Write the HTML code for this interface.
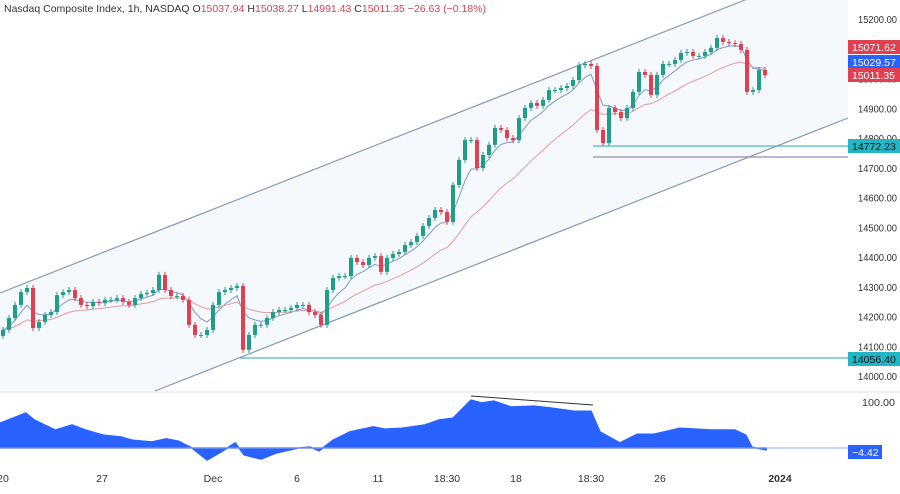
<!DOCTYPE html>
<html><head><meta charset="utf-8"><style>
body{margin:0;background:#fff;font-family:"Liberation Sans",sans-serif}
svg text{font-family:"Liberation Sans",sans-serif}
</style></head><body>
<svg id="c" width="900" height="489" xmlns="http://www.w3.org/2000/svg">
<rect width="900" height="489" fill="#fff"/>
<polygon points="0,293 745,0 848,0 848,118 155,391 0,391" fill="#f5f8fd"/>
<g id="grid"></g>
<line x1="0" y1="293" x2="745" y2="0" stroke="#8797b8" stroke-width="1.2"/>
<line x1="155" y1="391" x2="848" y2="118" stroke="#8797b8" stroke-width="1.2"/>
<line x1="593" y1="146" x2="848" y2="146" stroke="#4fb8c0" stroke-width="1.2"/>
<line x1="593" y1="157" x2="848" y2="157" stroke="#9a8aa6" stroke-width="1.2"/>
<line x1="240" y1="358" x2="848" y2="358" stroke="#4fb8c0" stroke-width="1.2"/>
<g id="ma"></g><g id="candles"></g>
<line x1="0" y1="392" x2="900" y2="392" stroke="#e0e3eb"/>
<g id="osc"></g>
<line x1="471" y1="396" x2="593" y2="405" stroke="#333" stroke-width="1"/>
<g id="axis"></g>
<text x="4" y="12" font-size="10.5" fill="#333">Nasdaq Composite Index, 1h, NASDAQ <tspan fill="#333">O</tspan><tspan fill="#d9434f">15037.94</tspan> <tspan fill="#333">H</tspan><tspan fill="#d9434f">15038.27</tspan> <tspan fill="#333">L</tspan><tspan fill="#d9434f">14991.43</tspan> <tspan fill="#333">C</tspan><tspan fill="#d9434f">15011.35 −26.63 (−0.18%)</tspan></text>
</svg>
<script>
const closes=[14155,14195,14239,14282,14296,14161,14182,14205,14215,14272,14282,14289,14262,14239,14235,14249,14245,14256,14256,14262,14249,14239,14262,14276,14279,14289,14340,14289,14269,14269,14256,14172,14138,14138,14155,14239,14282,14289,14296,14303,14088,14138,14172,14172,14195,14215,14222,14222,14229,14239,14239,14215,14205,14172,14289,14330,14336,14336,14397,14383,14373,14397,14403,14350,14397,14410,14417,14440,14450,14471,14504,14531,14558,14551,14518,14642,14726,14793,14793,14699,14743,14777,14834,14827,14800,14793,14867,14901,14918,14908,14928,14961,14961,14968,14975,14995,15045,15049,15042,14827,14783,14901,14887,14867,14901,14955,15022,15012,14945,15012,15049,15049,15062,15086,15089,15076,15076,15089,15103,15136,15123,15119,15116,15096,14955,14961,15029,15011];
const priceTicks=[15200,15100,15000,14900,14800,14700,14600,14500,14400,14300,14200,14100,14000];
const oscBar=[-0.5,3.8,5.2,8.7,11.5,13.8,16.7,19.7,21.5,24.8,27.2,29.2,31.5,34,36.3,38.7,40.2,43,45.5,49.2,51.2,52.7,55,57.8,61.7,63.7,66.5,70.3,72.7,75,78,79.8,81.8,84.7,88.5,91.3,95.2,98,99.5,102.8,105.7,108.5,112.8,118.2,122,123.8,124.8,127.2];
const oscVal=[54,76,61,39,50,39,28,24,17,13,20,15,0,-26,-9,11,-15,-24,-11,0,2,-6,17,35,46,41,43,50,61,65,104,98,102,89,91,87,80,80,35,11,30,30,43,39,39,28,2,-4];
const xLabels=["20","27","Dec","6","11","18:30","18","18:30","26","2024"];
const xLabelBars=[0,16.5,35,49,62.5,74,85.5,98,109.5,129.5];
const NS="http://www.w3.org/2000/svg";
const X=i=>3+6*i, Y=p=>19+(15200-p)*0.2975, OY=v=>448-v*0.46;
function mk(t,a,parent){const e=document.createElementNS(NS,t);for(const k in a)e.setAttribute(k,a[k]);parent.appendChild(e);return e;}
const grid=document.getElementById('grid'),axis=document.getElementById('axis');
priceTicks.forEach(p=>{
 const t=mk('text',{x:858,y:Y(p)+4,'font-size':'10',fill:'#333',textLength:'39',lengthAdjust:'spacingAndGlyphs'},axis);t.textContent=p.toFixed(2);
 
 
});
const ot=mk('text',{x:862,y:OY(100)+4,'font-size':'10',fill:'#333',textLength:'33',lengthAdjust:'spacingAndGlyphs'},axis);ot.textContent='100.00';


xLabels.forEach((l,i)=>{
 const t=mk('text',{x:X(xLabelBars[i]),y:482,'font-size':'10.5',fill:'#333','text-anchor':'middle','font-weight':l==='2024'?'bold':'normal'},axis);t.textContent=l;
 
 
});
function ema(n){const k=2/(n+1);let e=closes[0];return closes.map(c=>e=c*k+e*(1-k));}
const ma=document.getElementById('ma');
[[ema(6),'#7f96c9'],[ema(20),'#e59a9a']].forEach(([s,col],j)=>{
 const pl=mk('polyline',{points:s.map((v,i)=>X(i)+','+Y(v)).join(' '),fill:'none',stroke:col,'stroke-width':1},ma);
 
 
});
const cg=document.getElementById('candles');
closes.forEach((c,i)=>{
 const o=i?closes[i-1]:c-20;const up=c>=o;const col=up?'#1e9e89':'#e0404f';
 const top=Y(Math.max(o,c)),bot=Y(Math.min(o,c));
 const g=mk('g',{},cg);
 
 
 mk('line',{x1:X(i),x2:X(i),y1:top-3,y2:bot+3,stroke:col,'stroke-width':1},g);
 mk('rect',{x:X(i)-2,y:top,width:4,height:Math.max(1,bot-top),fill:col},g);
});
const osc=document.getElementById('osc');
let d='M'+X(oscBar[0])+','+OY(0);
oscBar.forEach((b,i)=>d+=' L'+X(b)+','+OY(oscVal[i]));
d+=' L'+X(oscBar[oscBar.length-1])+','+OY(0)+' Z';
const ar=mk('path',{d:d,fill:'#2962ff','stroke':'#2962ff','stroke-linejoin':'round','stroke-width':1.5},osc);


const zl=mk('line',{x1:0,x2:848,y1:OY(0),y2:OY(0),stroke:'#90a8e8','stroke-width':1},osc);


const boxes=[[15071.62,'#e0404f'],[15029.57,'#2962ff'],[15011.35,'#e0404f'],[14772.23,'#22b5c4'],[14056.40,'#22b5c4']];
const boxY=[47,62,75,146,359];
boxes.forEach(([v,col],i)=>{
 const g=mk('g',{},axis);
 
 
 mk('rect',{x:848,y:boxY[i]-7,width:52,height:14,fill:col},g);
 const t=mk('text',{x:852,y:boxY[i]+4,'font-size':'10.5',fill:i>=3?'#111':'#fff'},g);t.textContent=v.toFixed(2);
});
const og=mk('g',{},axis);


mk('rect',{x:848,y:445,width:34,height:14,fill:'#2962ff'},og);
const ov=mk('text',{x:852,y:456,'font-size':'10.5',fill:'#fff'},og);ov.textContent='−4.42';
</script>
</body></html>
